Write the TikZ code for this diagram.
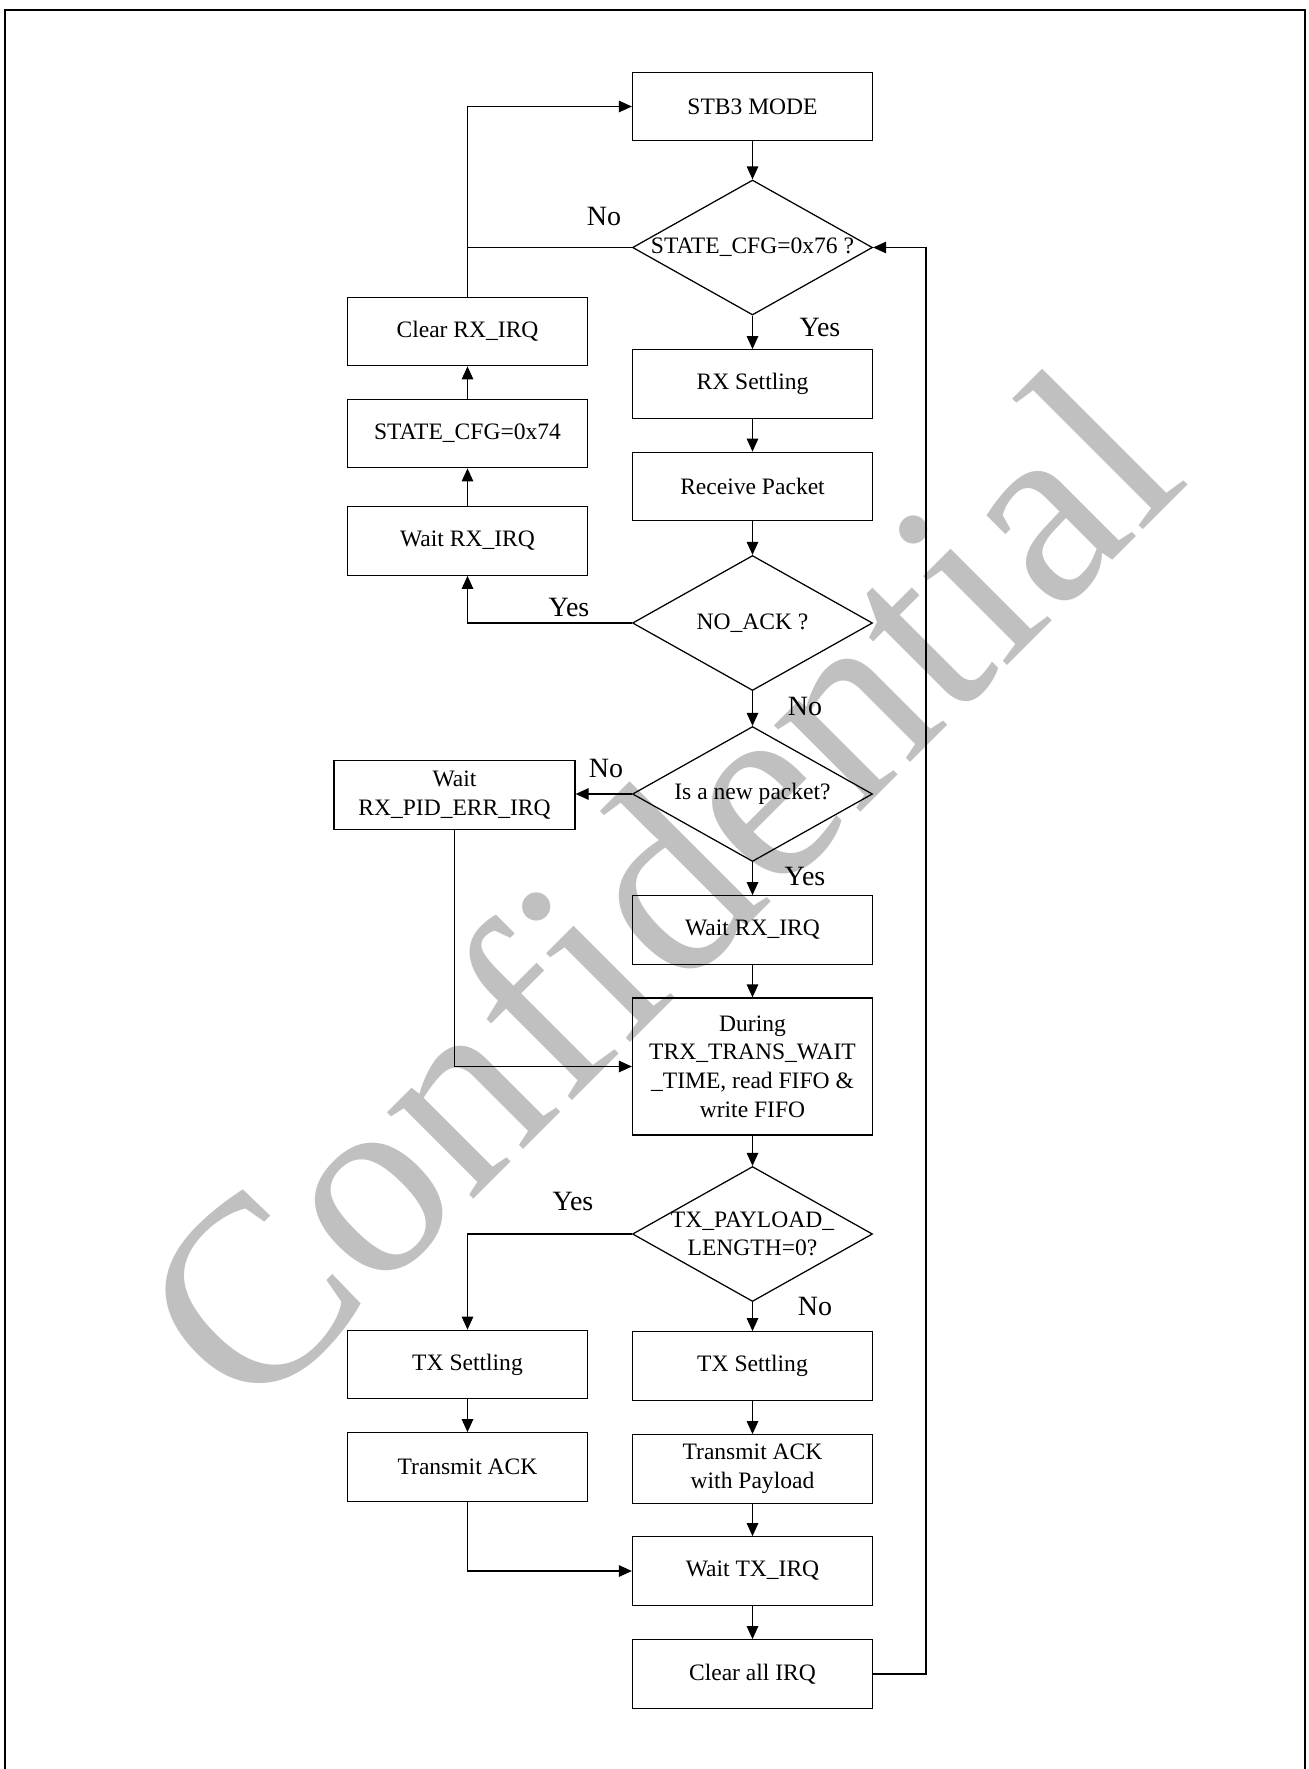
\documentclass[tikz,border=0pt]{standalone}
\usepackage{fontspec}
\setmainfont{Liberation Serif}
\usetikzlibrary{shapes.geometric,arrows.meta}
\definecolor{wmgray}{RGB}{192,192,192}
\tikzset{
  blk/.style={draw, line width=0.25mm, minimum width=48mm, minimum height=13.7mm,
    align=center, inner sep=0pt, font=\fontsize{13.4}{16.3}\selectfont},
  ask/.style={diamond, draw, line width=0.25mm, minimum width=48mm, minimum height=27mm, inner sep=0pt},
  asktxt/.style={align=center, inner sep=0pt, font=\fontsize{13.4}{16.3}\selectfont},
  yn/.style={inner sep=0pt, font=\fontsize{15.9}{19}\selectfont},
  wire/.style={line width=0.25mm},
  flow/.style={line width=0.25mm, -{Triangle[length=2.6mm,width=2.3mm]}},
}

\begin{document}
\begin{tikzpicture}
  \useasboundingbox (0mm,0mm) rectangle (261.8mm,-353.8mm);
  % watermark
  \node[wmgray, rotate=45, anchor=base west, inner sep=0pt,
    font=\fontsize{151.5}{155}\selectfont] (wm) at (50mm,-284.6mm) {Confidential};
  % page frame
  \draw[line width=0.5mm] (1mm,-353.8mm) -- (1mm,-2mm) -- (261mm,-2mm) -- (261mm,-353.8mm);

  \begin{scope}[shift={(150.5mm,0mm)}]
    \node[blk] (stb) at (0mm,-21.3mm) {STB3 MODE};
    \node[ask] (d1) at (0mm,-49.5mm) {};
    \node[asktxt] at (d1) {STATE\_CFG=0x76 ?};
    \node[blk] (rxset) at (0mm,-76.8mm) {RX Settling};
    \node[blk] (rxpkt) at (0mm,-97.3mm) {Receive Packet};
    \node[ask] (d2) at (0mm,-124.6mm) {};
    \node[asktxt] at (d2) {NO\_ACK ?};
    \node[ask] (d3) at (0mm,-158.8mm) {};
    \node[asktxt] at (d3) {Is a new packet?};
    \node[blk] (waitrx) at (0mm,-186mm) {Wait RX\_IRQ};
    \node[blk, minimum height=27.4mm] (during) at (0mm,-213.3mm)
      {During\\TRX\_TRANS\_WAIT\\\_TIME, read FIFO \&\\write FIFO};
    \node[ask] (d4) at (0mm,-246.8mm) {};
    \node[asktxt] at (d4) {TX\_PAYLOAD\_\\LENGTH=0?};
    \node[blk] (txset) at (0mm,-273.2mm) {TX Settling};
    \node[blk] (txackp) at (0mm,-293.8mm) {Transmit ACK\\with Payload};
    \node[blk] (waittx) at (0mm,-314.2mm) {Wait TX\_IRQ};
    \node[blk] (clrall) at (0mm,-334.8mm) {Clear all IRQ};
  \end{scope}

  \begin{scope}[shift={(93.5mm,0mm)}]
    \node[blk] (clrrx) at (0mm,-66.3mm) {Clear RX\_IRQ};
    \node[blk] (cfg74) at (0mm,-86.7mm) {STATE\_CFG=0x74};
    \node[blk] (waitrxl) at (0mm,-108.2mm) {Wait RX\_IRQ};
    \node[blk] (txsetl) at (0mm,-272.9mm) {TX Settling};
    \node[blk] (txackl) at (0mm,-293.4mm) {Transmit ACK};
  \end{scope}
  \node[blk, minimum width=48.2mm] (pid) at (90.9mm,-159mm) {Wait\\RX\_PID\_ERR\_IRQ};

  % yes / no
  \node[yn] (n1) at (120.8mm,-43.2mm) {No};
  \node[yn] (y1) at (164mm,-65.4mm) {Yes};
  \node[yn] (y2) at (113.8mm,-121.4mm) {Yes};
  \node[yn] (n2) at (161mm,-141.2mm) {No};
  \node[yn] (n3) at (121.2mm,-153.6mm) {No};
  \node[yn] (y3) at (161mm,-175.2mm) {Yes};
  \node[yn] (y4) at (114.6mm,-240.2mm) {Yes};
  \node[yn] (n4) at (163mm,-261.2mm) {No};

  \draw[flow] (stb) -- (d1);
  \draw[flow] (d1) -- (rxset);
  \draw[wire] (d1.west) -- (d1.west -| clrrx.north);
  \draw[flow] (clrrx.north) |- (stb.west);
  \draw[flow] (cfg74) -- (clrrx);
  \draw[flow] (waitrxl) -- (cfg74);
  \draw[flow] (rxset) -- (rxpkt);
  \draw[flow] (rxpkt) -- (d2);
  \draw[flow] (d2.west) -| (waitrxl.south);
  \draw[flow] (d2) -- (d3);
  \draw[flow] (d3.west) -- (d3.west -| pid.east);
  \draw[flow] (pid.south) |- (during.west);
  \draw[flow] (d3) -- (waitrx);
  \draw[flow] (waitrx) -- (during);
  \draw[flow] (during) -- (d4);
  \draw[flow] (d4.west) -| (txsetl.north);
  \draw[flow] (d4) -- (txset);
  \draw[flow] (txsetl) -- (txackl);
  \draw[flow] (txset) -- (txackp);
  \draw[flow] (txackp) -- (waittx);
  \draw[flow] (txackl.south) |- (waittx.west);
  \draw[flow] (waittx) -- (clrall);
  \coordinate (rloop) at (185.2mm,-334.8mm);
  \draw[flow] (clrall.east) -- (rloop) |- (d1.east);
\end{tikzpicture}
\end{document}
